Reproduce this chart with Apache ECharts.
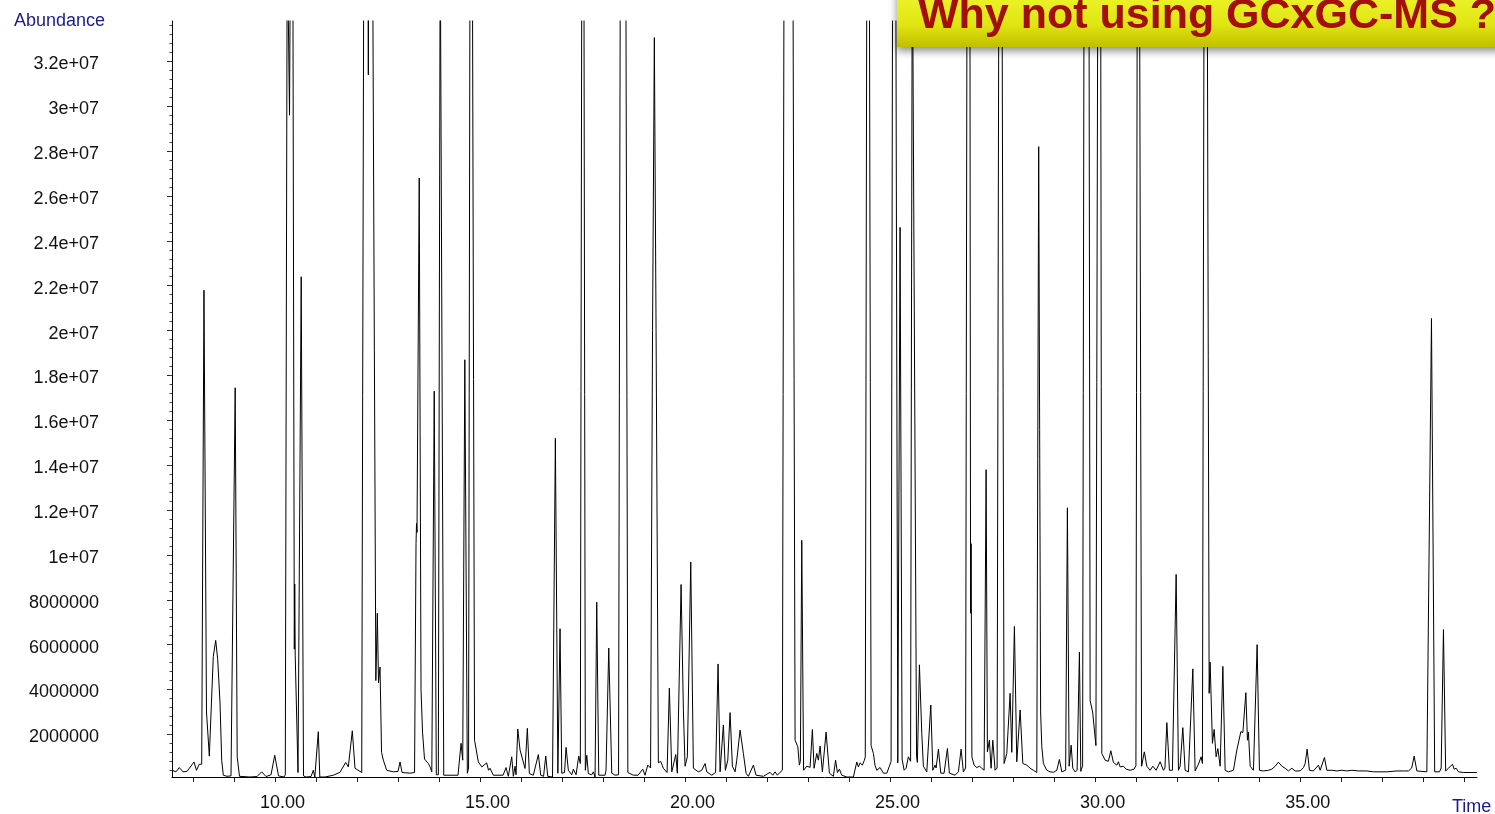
<!DOCTYPE html>
<html>
<head>
<meta charset="utf-8">
<title>TIC chromatogram</title>
<style>
  html, body { margin: 0; padding: 0; background: #fff; }
  #chart { width: 1495px; height: 814px; }
</style>
<script src="https://cdn.jsdelivr.net/npm/echarts@6/dist/echarts.min.js"></script>
</head>
<body>
<div id="chart"></div>
<script>
// TIC trace: [retention time (min), abundance (millions)]
var trace07to10 = [
  [7.305, 0.40], [7.402, 0.33], [7.483, 0.52], [7.573, 0.33], [7.671, 0.35], [7.841, 0.77],
  [7.902, 0.40], [7.971, 0.67], [8.029, 0.67], [8.085, 21.8], [8.146, 3.0], [8.215, 1.03],
  [8.312, 5.47], [8.371, 6.19], [8.420, 5.33], [8.476, 3.4], [8.517, 0.85], [8.556, 0.18],
  [8.646, 0.13], [8.744, 0.15], [8.776, 0.2], [8.846, 17.45], [8.895, 1.0], [8.951, 0.13],
  [9.207, 0.10], [9.378, 0.12], [9.493, 0.33], [9.598, 0.12], [9.720, 0.2], [9.810, 1.07],
  [9.902, 0.15], [10.037, 0.10]
];
var trace10to13 = [
  [10.068, 0.2], [10.115, 38], [10.171, 29.6], [10.195, 38], [10.251, 38], [10.288, 5.8],
  [10.298, 8.7], [10.310, 5.5], [10.378, 0.3], [10.456, 22.4], [10.512, 0.15], [10.573, 0.10],
  [10.695, 0.12], [10.751, 0.40], [10.788, 0.10], [10.829, 0.10], [10.873, 2.12], [10.910, 0.10],
  [11.037, 0.10], [11.239, 0.18], [11.402, 0.31], [11.541, 0.75], [11.605, 0.55], [11.702, 2.16],
  [11.768, 0.49], [11.932, 0.30], [11.951, 0.3], [11.983, 38], [12.080, 38], [12.093, 31.4],
  [12.105, 38], [12.195, 38], [12.276, 4.4], [12.312, 7.4], [12.341, 4.3], [12.378, 5.0],
  [12.415, 1.2], [12.459, 0.85], [12.541, 0.40], [12.702, 0.33], [12.817, 0.35], [12.866, 0.77],
  [12.915, 0.30]
];
var trace13to17 = [
  [13.110, 0.27], [13.220, 0.30], [13.256, 10.5], [13.268, 11.4], [13.280, 11.0], [13.334, 26.8],
  [13.378, 4.0], [13.415, 2.1], [13.463, 0.9], [13.556, 0.7], [13.598, 0.55], [13.641, 0.33],
  [13.700, 17.3], [13.751, 0.2], [13.800, 0.2], [13.846, 38], [13.885, 38], [13.932, 0.18],
  [14.085, 0.18], [14.280, 0.18], [14.354, 1.6], [14.395, 0.85], [14.446, 18.7], [14.507, 0.27],
  [14.537, 0.5], [14.573, 38], [14.629, 38], [14.683, 1.74], [14.776, 0.77], [14.859, 0.55],
  [14.980, 0.73], [15.024, 0.4], [15.061, 0.49], [15.141, 0.18], [15.378, 0.18], [15.451, 0.52],
  [15.507, 0.13], [15.590, 1.0], [15.629, 0.13], [15.671, 0.58], [15.695, 0.2], [15.737, 2.24],
  [15.793, 1.30], [15.915, 0.48], [15.971, 2.27], [16.020, 0.25], [16.117, 0.18], [16.239, 1.10],
  [16.298, 0.18], [16.366, 0.13], [16.420, 1.03], [16.468, 0.13], [16.585, 0.10], [16.654, 15.2],
  [16.715, 0.27], [16.768, 6.71], [16.810, 0.27], [16.878, 0.30], [16.915, 1.42], [16.971, 0.40]
];
var trace17to21 = [
  [17.054, 0.20], [17.093, 0.45], [17.159, 0.20], [17.224, 1.03], [17.263, 0.7], [17.300, 38],
  [17.349, 38], [17.385, 0.40], [17.420, 1.07], [17.459, 0.25], [17.541, 0.20], [17.580, 0.33],
  [17.622, 0.10], [17.663, 7.89], [17.712, 0.18], [17.866, 0.18], [17.890, 0.40], [17.956, 5.85],
  [18.029, 0.27], [18.110, 0.18], [18.195, 0.2], [18.239, 38], [18.371, 38], [18.422, 0.3],
  [18.556, 0.18], [18.671, 0.18], [18.785, 0.45], [18.841, 0.18], [18.907, 0.63], [18.976, 0.5],
  [19.024, 20], [19.068, 33.06], [19.110, 20], [19.166, 0.73], [19.220, 0.8], [19.288, 0.49],
  [19.378, 0.3], [19.434, 4.06], [19.493, 0.33], [19.590, 1.10], [19.629, 0.27], [19.720, 8.68],
  [19.776, 3.09], [19.817, 0.58], [19.873, 1.0], [19.956, 9.68], [20.020, 0.49], [20.141, 0.33],
  [20.224, 0.40], [20.305, 0.70], [20.346, 0.33], [20.468, 0.18], [20.561, 0.3], [20.622, 5.14],
  [20.671, 0.33], [20.751, 2.42], [20.800, 0.40], [20.859, 0.85], [20.915, 2.97], [20.971, 0.58]
];
var trace21to25 = [
  [21.037, 0.33], [21.078, 0.85], [21.159, 2.19], [21.239, 1.15], [21.305, 0.27], [21.361, 0.13],
  [21.483, 0.63], [21.549, 0.18], [21.727, 0.13], [21.890, 0.31], [21.956, 0.18], [22.012, 0.33],
  [22.068, 0.18], [22.134, 0.31], [22.190, 0.4], [22.232, 38], [22.446, 38], [22.500, 1.74],
  [22.566, 1.45], [22.605, 0.63], [22.629, 0.8], [22.663, 10.65], [22.707, 0.40], [22.785, 0.58],
  [22.866, 0.53], [22.922, 2.22], [22.963, 0.49], [23.029, 1.15], [23.068, 0.85], [23.110, 1.48],
  [23.166, 0.33], [23.256, 2.1], [23.337, 0.27], [23.434, 0.13], [23.488, 0.85], [23.532, 0.30],
  [23.580, 0.45], [23.639, 0.18], [23.761, 0.10], [23.922, 0.10], [24.005, 0.77], [24.044, 0.55],
  [24.085, 0.73], [24.141, 0.63], [24.190, 0.85], [24.212, 1.0], [24.251, 38], [24.310, 38],
  [24.354, 1.5], [24.410, 1.15], [24.451, 0.6], [24.493, 0.40], [24.573, 0.52], [24.654, 0.27],
  [24.737, 0.27], [24.800, 0.58], [24.841, 0.8], [24.880, 38], [24.954, 38]
];
var trace25to29 = [
  [25.005, 0.73], [25.061, 24.6], [25.110, 0.9], [25.159, 0.40], [25.207, 0.49], [25.263, 1.0],
  [25.317, 0.8], [25.359, 38], [25.407, 38], [25.463, 1.0], [25.483, 0.75], [25.532, 5.10],
  [25.590, 2.04], [25.629, 0.58], [25.712, 0.33], [25.751, 0.27], [25.810, 3.31], [25.859, 0.40],
  [25.915, 0.63], [25.939, 0.5], [25.995, 1.34], [26.054, 0.27], [26.134, 0.27], [26.215, 1.37],
  [26.263, 0.27], [26.402, 0.18], [26.483, 0.33], [26.549, 1.34], [26.605, 0.33], [26.659, 0.5],
  [26.695, 38], [26.763, 38], [26.780, 7.4], [26.793, 10.5], [26.812, 1.0], [26.866, 0.63],
  [26.932, 0.52], [26.995, 0.58], [27.054, 0.49], [27.110, 0.40], [27.159, 13.8], [27.190, 1.22],
  [27.239, 1.74], [27.280, 0.49], [27.322, 1.74], [27.378, 0.40], [27.427, 0.5], [27.471, 38],
  [27.544, 38], [27.598, 0.70], [27.663, 1.15], [27.744, 3.83], [27.785, 1.2], [27.849, 6.81],
  [27.907, 0.78], [27.988, 3.09], [28.054, 0.70], [28.151, 0.63], [28.232, 0.49], [28.312, 0.40],
  [28.395, 0.30], [28.441, 28.2], [28.488, 3.0], [28.517, 1.45], [28.556, 0.70], [28.639, 0.40],
  [28.720, 0.33], [28.800, 0.31], [28.883, 0.40], [28.946, 0.88]
];
var trace29to33 = [
  [29.005, 0.33], [29.098, 0.40], [29.141, 12.1], [29.183, 0.58], [29.232, 1.52], [29.273, 0.49],
  [29.329, 0.33], [29.378, 0.40], [29.434, 5.67], [29.468, 0.35], [29.512, 0.6], [29.549, 38],
  [29.666, 38], [29.695, 3.5], [29.756, 3.0], [29.837, 1.5], [29.885, 38], [29.951, 38],
  [29.980, 1.15], [30.061, 0.85], [30.141, 0.80], [30.200, 1.27], [30.263, 0.75], [30.346, 0.63],
  [30.385, 0.78], [30.427, 0.55], [30.507, 0.58], [30.573, 0.45], [30.671, 0.40], [30.768, 0.45],
  [30.812, 0.6], [30.846, 38], [30.898, 38], [30.951, 0.58], [31.017, 1.22], [31.078, 0.58],
  [31.159, 0.40], [31.224, 0.58], [31.305, 0.40], [31.402, 0.78], [31.483, 0.40], [31.520, 0.5],
  [31.566, 2.52], [31.629, 0.40], [31.702, 0.40], [31.793, 9.13], [31.849, 0.40], [31.890, 0.58],
  [31.956, 2.30], [32.012, 0.40], [32.093, 0.33], [32.200, 4.92], [32.256, 0.37], [32.337, 0.67],
  [32.402, 1.0], [32.434, 0.7], [32.476, 38], [32.549, 38], [32.598, 3.83], [32.622, 5.22],
  [32.678, 1.6], [32.720, 2.22], [32.768, 1.0], [32.810, 1.37], [32.866, 0.58], [32.932, 5.03],
  [32.988, 0.40]
];
var trace33to39 = [
  [33.068, 0.33], [33.190, 0.40], [33.273, 1.30], [33.371, 2.12], [33.420, 2.08], [33.493, 3.86],
  [33.532, 1.74], [33.556, 2.1], [33.598, 0.58], [33.678, 0.40], [33.768, 6.0], [33.824, 0.40],
  [33.922, 0.37], [34.044, 0.40], [34.127, 0.45], [34.207, 0.58], [34.288, 0.76], [34.371, 0.58],
  [34.451, 0.49], [34.532, 0.37], [34.615, 0.49], [34.695, 0.37], [34.817, 0.37], [34.898, 0.52],
  [34.939, 0.70], [34.988, 1.34], [35.044, 0.40], [35.141, 0.37], [35.263, 0.63], [35.305, 0.40],
  [35.410, 0.97], [35.468, 0.40], [35.590, 0.40], [35.712, 0.37], [35.834, 0.40], [35.956, 0.37],
  [36.078, 0.40], [36.239, 0.37], [36.444, 0.37], [36.605, 0.33], [36.932, 0.33], [37.176, 0.37],
  [37.337, 0.37], [37.459, 0.37], [37.537, 0.5], [37.598, 1.03], [37.663, 0.37], [37.907, 0.33],
  [37.946, 0.33], [38.020, 20.54], [38.098, 0.33], [38.215, 0.33], [38.256, 0.5], [38.312, 6.67],
  [38.366, 0.37], [38.434, 0.49], [38.532, 0.67], [38.573, 0.45], [38.622, 0.49], [38.678, 0.33],
  [38.800, 0.30], [38.963, 0.30], [39.127, 0.30]
];

var xLabelValues = [10, 15, 20, 25, 30, 35];
var xTickLabels = ['10.00', '15.00', '20.00', '25.00', '30.00', '35.00'];
var yTickValues = [2, 4, 6, 8, 10, 12, 14, 16, 18, 20, 22, 24, 26, 28, 30, 32];
var yTickLabels = ['2000000', '4000000', '6000000', '8000000', '1e+07', '1.2e+07', '1.4e+07',
  '1.6e+07', '1.8e+07', '2e+07', '2.2e+07', '2.4e+07', '2.6e+07', '2.8e+07', '3e+07', '3.2e+07'];

var trace = [].concat(trace07to10, trace10to13, trace13to17, trace17to21,
  trace21to25, trace25to29, trace29to33, trace33to39);

// the instrument puts its minute ticks slightly left of the labels
var xTicks = [];
for (var n = 8; n <= 39; n++) xTicks.push(n - 0.183);
var yMinorTicks = [];
for (var k = 1; k <= 84; k++) yMinorTicks.push(+(k * 0.4).toFixed(1));

var FONT = '"Liberation Sans", Arial, sans-serif';
var chart = echarts.init(document.getElementById('chart'));

chart.setOption({
  animation: false,
  backgroundColor: '#fff',
  grid: { left: 172, right: 18, top: 21, bottom: 37 },
  xAxis: {
    type: 'value',
    min: 7.305,
    max: 39.13,
    axisLine: { lineStyle: { color: '#000', width: 1 } },
    axisTick: { customValues: xTicks, length: 5, lineStyle: { color: '#222' } },
    axisLabel: {
      customValues: xLabelValues,
      margin: 17,
      fontFamily: FONT,
      fontSize: 18,
      color: '#111',
      formatter: function (v) { return xTickLabels[xLabelValues.indexOf(v)]; }
    },
    splitLine: { show: false }
  },
  yAxis: [{
    type: 'value',
    min: 0.1,
    max: 33.8,
    axisLine: { show: true, lineStyle: { color: '#000', width: 1 } },
    axisTick: { customValues: yTickValues, length: 5, lineStyle: { color: '#222' } },
    axisLabel: {
      customValues: yTickValues,
      margin: 73,
      align: 'right',
      fontFamily: FONT,
      fontSize: 18,
      color: '#111',
      formatter: function (v) { return '{v|' + yTickLabels[yTickValues.indexOf(v)] + '}'; },
      rich: {
        v: { fontFamily: FONT, fontSize: 18, color: '#111', padding: [6, 0, 0, 0] }
      }
    },
    splitLine: { show: false }
  }, {
    type: 'value',
    min: 0.1,
    max: 33.8,
    position: 'left',
    axisLine: { show: false },
    axisTick: { show: true, customValues: yMinorTicks, length: 2.5, lineStyle: { color: '#444' } },
    axisLabel: { show: false },
    splitLine: { show: false }
  }],
  series: [{
    type: 'line',
    data: trace,
    showSymbol: false,
    clip: true,
    lineStyle: { color: '#000', width: 1 }
  }],
  graphic: [
    {
      type: 'text', left: 14, top: 12,
      style: { text: 'Abundance', font: '18px ' + FONT, fill: '#1a1a8c' }
    },
    {
      type: 'text', left: 1452, top: 798,
      style: { text: 'Time', font: '18px ' + FONT, fill: '#1a1a8c' }
    },
    {
      type: 'rect', z: 100,
      shape: { x: 897, y: -10, width: 640, height: 57 },
      style: {
        fill: new echarts.graphic.LinearGradient(0, 0, 0, 1, [
          { offset: 0, color: '#eef52e' },
          { offset: 0.6, color: '#e0e612' },
          { offset: 1, color: '#c2be00' }
        ]),
        shadowBlur: 8,
        shadowOffsetY: 4,
        shadowColor: 'rgba(0,0,0,0.45)'
      }
    },
    {
      type: 'text', z: 101, x: 918, y: 16,
      style: {
        text: 'Why not using GCxGC-MS ?',
        font: 'bold 43px ' + FONT,
        fill: '#a30f0c',
        verticalAlign: 'middle',
        shadowBlur: 3,
        shadowOffsetX: 2,
        shadowOffsetY: 2,
        shadowColor: 'rgba(90,70,0,0.6)'
      }
    }
  ]
});
</script>
</body>
</html>
